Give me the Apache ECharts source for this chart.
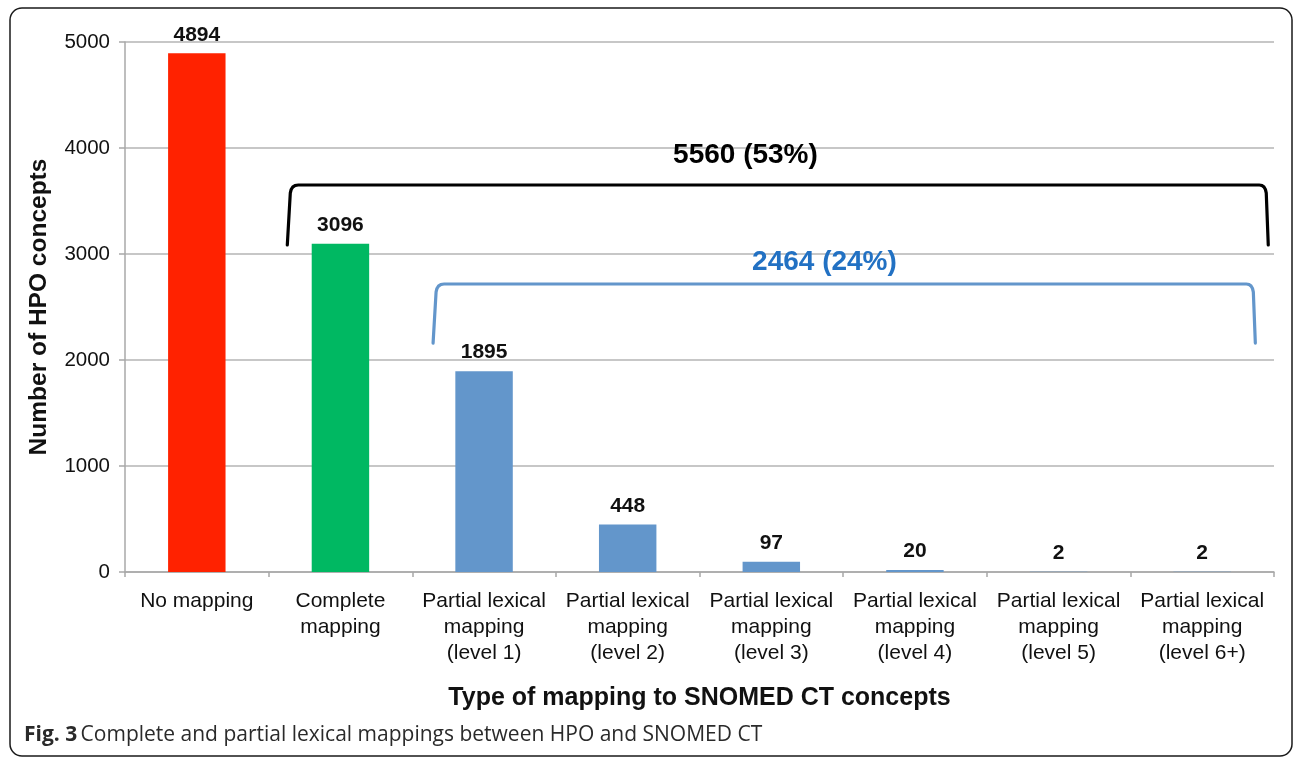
<!DOCTYPE html>
<html>
<head>
<meta charset="utf-8">
<script src="https://cdn.jsdelivr.net/npm/echarts@6/dist/echarts.min.js"></script>
<style>
html,body{margin:0;padding:0;background:#fff;}
#c{width:1295px;height:759px;}
</style>
</head>
<body>
<div id="c"></div>
<script>
// ---- data ----
const categories = [
  'No mapping',
  'Complete\nmapping',
  'Partial lexical\nmapping\n(level 1)',
  'Partial lexical\nmapping\n(level 2)',
  'Partial lexical\nmapping\n(level 3)',
  'Partial lexical\nmapping\n(level 4)',
  'Partial lexical\nmapping\n(level 5)',
  'Partial lexical\nmapping\n(level 6+)'
];
const counts = [4894, 3096, 1895, 448, 97, 20, 2, 2];
const yTicks = [0, 1000, 2000, 3000, 4000, 5000];

// brackets (x in category units 0..8, y in data values)
const bracketLabels = ['5560 (53%)', '2464 (24%)'];
const bracketStart = [1.13, 2.145];
const bracketEnd = [7.96, 7.87];
const bracketTop = [3651, 2717];
const bracketBottom = [3085, 2160];
const bracketLabelX = [4.32, 4.87];
const bracketLabelY = [3934, 2925];

const FONT = '"Liberation Sans", Arial, Helvetica, sans-serif';
const barColors = ['#FF2200', '#00B862', '#6396CB', '#6396CB', '#6396CB', '#6396CB', '#6396CB', '#6396CB'];
const bracketColors = ['#000000', '#6396CB'];
const bracketTextColors = ['#000000', '#2271C3'];

const chart = echarts.init(document.getElementById('c'), null, {renderer: 'canvas'});

const bracketData = bracketLabels.map((l, i) => [bracketStart[i], bracketEnd[i], bracketTop[i], bracketBottom[i], bracketLabelX[i], bracketLabelY[i]]);

chart.setOption({
  animation: false,
  backgroundColor: '#ffffff',
  grid: {left: 125, right: 21, top: 42, bottom: 187, containLabel: false},
  xAxis: [{
    type: 'category',
    data: categories,
    axisLine: {lineStyle: {color: '#A8A8A8', width: 1.5}},
    axisTick: {show: true, length: 5, lineStyle: {color: '#A8A8A8', width: 1.5}},
    axisLabel: {color: '#111', fontFamily: FONT, fontSize: 21, lineHeight: 26, margin: 16, interval: 0},
    name: 'Type of mapping to SNOMED CT concepts',
    nameLocation: 'middle',
    nameGap: 114,
    nameTextStyle: {color: '#111', fontFamily: FONT, fontSize: 25, fontWeight: 'bold', verticalAlign: 'top'}
  }, {
    type: 'value', min: 0, max: 8, show: false
  }],
  yAxis: {
    type: 'value',
    min: 0, max: 5000, interval: 1000,
    axisLine: {show: true, lineStyle: {color: '#A8A8A8', width: 1.5}},
    axisTick: {show: true, length: 6, lineStyle: {color: '#A8A8A8', width: 1.5}},
    splitLine: {lineStyle: {color: '#B4B4B4', width: 1.5}},
    axisLabel: {color: '#111', fontFamily: FONT, fontSize: 20.5, margin: 15,
      formatter: v => yTicks.includes(v) ? String(v) : ''},
    name: 'Number of HPO concepts',
    nameLocation: 'middle',
    nameGap: 73,
    nameTextStyle: {color: '#111', fontFamily: FONT, fontSize: 24.5, fontWeight: 'bold'}
  },
  series: [{
    type: 'bar',
    data: counts.map((v, i) => ({value: v, itemStyle: {color: barColors[i]}})),
    barWidth: '40%',
    label: {show: true, position: 'top', distance: 8, color: '#111', fontFamily: FONT, fontSize: 21, fontWeight: 'bold'}
  }, {
    type: 'custom',
    xAxisIndex: 1,
    yAxisIndex: 0,
    silent: true,
    z: 5,
    data: bracketData,
    renderItem: function (params, api) {
      const i = params.dataIndex;
      const p0 = api.coord([api.value(0), api.value(3)]);
      const pTL = api.coord([api.value(0), api.value(2)]);
      const pTR = api.coord([api.value(1), api.value(2)]);
      const pt = api.coord([api.value(4), api.value(5)]);
      const x0 = p0[0], yb = p0[1], yt = pTL[1], x1 = pTR[0];
      const d = 'M' + x0 + ' ' + yb +
        ' L' + (x0 + 3) + ' ' + (yt + 8) +
        ' Q' + (x0 + 4) + ' ' + yt + ' ' + (x0 + 11) + ' ' + yt +
        ' L' + (x1 - 9) + ' ' + yt +
        ' Q' + (x1 - 3) + ' ' + yt + ' ' + (x1 - 2) + ' ' + (yt + 8) +
        ' L' + x1 + ' ' + yb;
      return {
        type: 'group',
        children: [{
          type: 'path',
          shape: {pathData: d},
          style: {fill: null, stroke: bracketColors[i], lineWidth: 3.2, lineCap: 'round', lineJoin: 'round'}
        }, {
          type: 'text',
          x: pt[0], y: pt[1],
          style: {text: bracketLabels[i], fill: bracketTextColors[i], font: 'bold 28px ' + FONT, align: 'center', verticalAlign: 'middle'}
        }]
      };
    }
  }],
  graphic: [{
    type: 'rect',
    shape: {x: 10, y: 8, width: 1282, height: 748, r: 12},
    style: {fill: null, stroke: '#1a1a1a', lineWidth: 1.5},
    silent: true
  }, {
    type: 'text',
    left: 24,
    top: 725,
    style: {
      text: '{b|Fig. 3} {n|Complete and partial lexical mappings between HPO and SNOMED CT}',
      rich: {
        b: {font: 'bold 21px "Open Sans", "Noto Sans", sans-serif', fill: '#2a2a2a'},
        n: {font: '21px "Open Sans", "Noto Sans", sans-serif', fill: '#2a2a2a'}
      }
    }
  }]
});
</script>
</body>
</html>
